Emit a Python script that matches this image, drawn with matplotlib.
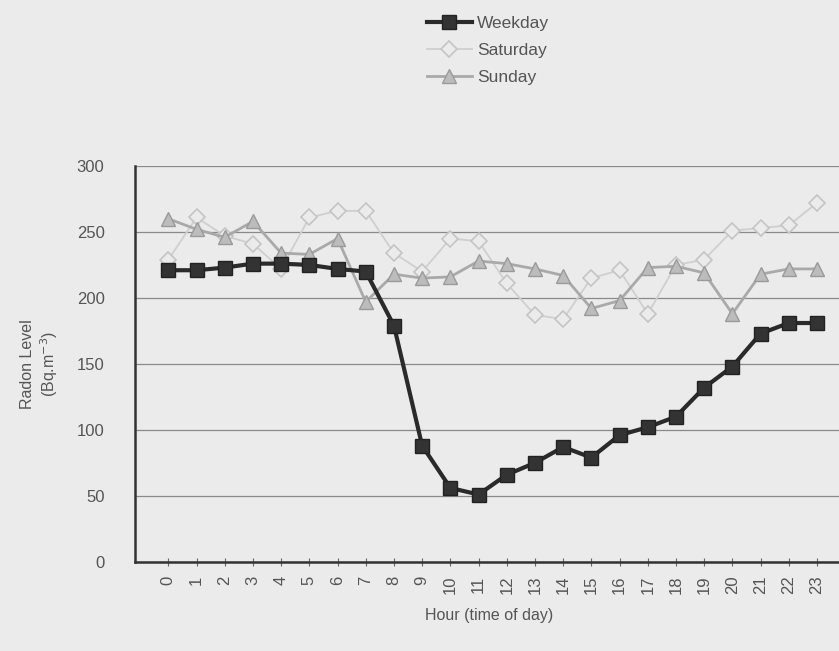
import matplotlib.pyplot as plt

hours = list(range(24))
weekday = [221, 221, 223, 226, 226, 225, 222, 220, 179, 88, 56, 51,
           66, 75, 87, 79, 96, 102, 110, 132, 148, 173, 181, 181]
saturday = [229, 261, 247, 241, 222, 261, 266, 266, 234, 220, 245, 243,
            211, 187, 184, 215, 221, 188, 225, 229, 251, 253, 255, 272]
sunday = [260, 252, 246, 258, 234, 233, 245, 197, 218, 215, 216, 228,
          226, 222, 217, 192, 198, 223, 224, 219, 188, 218, 222, 222]

plt.rcParams['font.family'] = ['Liberation Sans', 'DejaVu Sans']
bg = '#ebebeb'
txt = '#555555'

fig = plt.figure(figsize=(8.39, 6.51), dpi=100, facecolor=bg)
ax = fig.add_axes([0.161, 0.137, 0.845, 0.608], facecolor=bg)

ax.plot(hours, saturday, color='#cfcfcf', lw=1.3, marker='D', ms=8,
        mfc=bg, mec='#c4c4c4', mew=1.2, label='Saturday', zorder=3, clip_on=False)
ax.plot(hours, sunday, color='#a9a9a9', lw=2, marker='^', ms=10,
        mfc='#bcbcbc', mec='#9a9a9a', mew=1, label='Sunday', zorder=4, clip_on=False)
ax.plot(hours, weekday, color='#2a2a2a', lw=3, marker='s', ms=10,
        mfc='#333333', mec='#222222', label='Weekday', zorder=5, clip_on=False)

ax.set_xlim(-1.18, 23.96)
ax.set_ylim(0, 300)
ax.set_yticks(range(0, 301, 50))
ax.set_xticks(hours)
ax.set_xticklabels([str(h) for h in hours], rotation=90, fontsize=12, color=txt)
ax.tick_params(axis='x', direction='inout', length=6, color='#666666', pad=7)
ax.tick_params(axis='y', length=0, pad=22, labelsize=12, labelcolor=txt)
ax.grid(axis='y', color='#8a8a8a', lw=0.9)
ax.set_axisbelow(True)
for s in ['top', 'right']:
    ax.spines[s].set_visible(False)
for s in ['left', 'bottom']:
    ax.spines[s].set_color('#333333')
    ax.spines[s].set_linewidth(1.8)

ax.set_xlabel('Hour (time of day)', fontsize=11.5, color=txt, labelpad=10)
ax.set_ylabel('Radon Level\n(Bq.m$^{-3}$)', fontsize=11.5, color=txt, labelpad=12)

h, l = ax.get_legend_handles_labels()
order = [2, 0, 1]
fig.legend([h[i] for i in order], [l[i] for i in order], loc='upper left',
           bbox_to_anchor=(0.49, 1.0), frameon=False, fontsize=12.5,
           labelcolor=txt, handlelength=2.6, labelspacing=0.7, handletextpad=0.3)

plt.savefig('out.png', dpi=100, facecolor=bg)
